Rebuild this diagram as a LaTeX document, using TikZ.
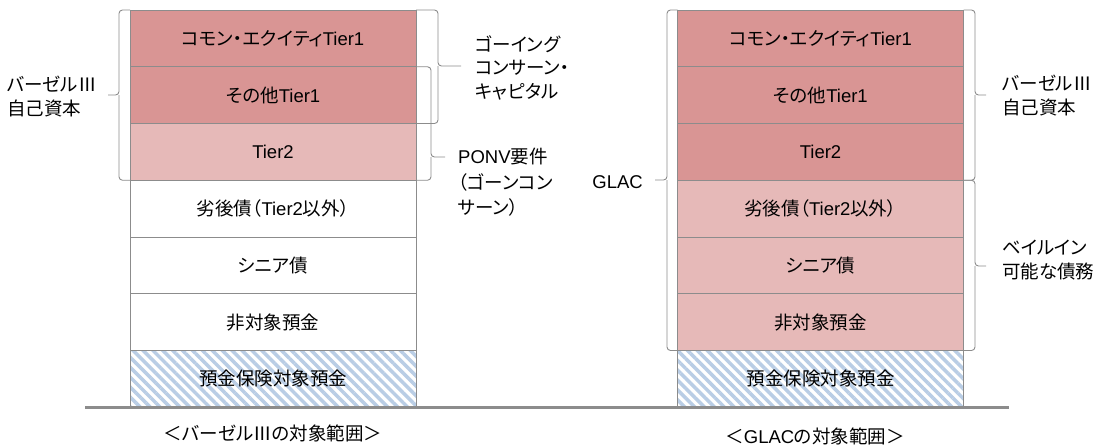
\documentclass[tikz,border=0pt]{standalone}
\usepackage{fontspec}
\setmainfont{Liberation Sans}
\newfontfamily\jp[RawFeature=+palt]{Noto Sans CJK JP}
\usetikzlibrary{patterns.meta}
\definecolor{dk}{HTML}{D99594}
\definecolor{lt}{HTML}{E6B9B8}
\definecolor{bd}{HTML}{8C8C8C}
\definecolor{hb}{HTML}{B9CDE5}
\begin{document}
\begin{tikzpicture}[x=1pt,y=-1pt,
  every node/.style={font=\fontsize{18.5}{24}\selectfont, text=black},
  cell/.style={draw=bd, line width=0.8pt, minimum width=286pt, minimum height=56.75pt, inner sep=0pt, outer sep=0pt, anchor=north},
  dkcell/.style={cell, fill=dk},
  ltcell/.style={cell, fill=lt},
  wcell/.style={cell, fill=white},
  hcell/.style={cell, pattern={Lines[angle=-45,distance=7pt,line width=3.5pt]}, pattern color=hb},
  brace/.style={draw=bd, line width=0.9pt, rounded corners=3.5pt},
  lbl/.style={align=left, inner sep=0pt}
]
\useasboundingbox[fill=white] (0,0) rectangle (1099,445);

% left column
\node[dkcell] (a1) at (273,10) {{\jp コモン・エクイティ}Tier1};
\node[dkcell] (a2) at (a1.south) {{\jp その他}Tier1};
\node[ltcell] (a3) at (a2.south) {Tier2};
\node[wcell] (a4) at (a3.south) {{\jp 劣後債（}Tier2{\jp 以外）}};
\node[wcell] (a5) at (a4.south) {{\jp シニア債}};
\node[wcell] (a6) at (a5.south) {{\jp 非対象預金}};
\node[hcell] (a7) at (a6.south) {{\jp 預金保険対象預金}};

% right column
\node[dkcell] (b1) at (820.5,10) {{\jp コモン・エクイティ}Tier1};
\node[dkcell] (b2) at (b1.south) {{\jp その他}Tier1};
\node[dkcell] (b3) at (b2.south) {Tier2};
\node[ltcell] (b4) at (b3.south) {{\jp 劣後債（}Tier2{\jp 以外）}};
\node[ltcell] (b5) at (b4.south) {{\jp シニア債}};
\node[ltcell] (b6) at (b5.south) {{\jp 非対象預金}};
\node[hcell] (b7) at (b6.south) {{\jp 預金保険対象預金}};

% base line
\coordinate (bl) at (85,407.5);
\coordinate (br) at (1009,407.5);
\draw[draw=bd, line width=2.2pt] (bl) -- (br);

% braces left column
\draw[brace] (a1.north west) -| (119,95) -- (108,95);
\draw[brace] (a3.south west) -| (119,95);
\draw[brace] (a1.north east) -| (438,66) -- (461,66);
\draw[brace] (a2.south east) -| (438,66);
\draw[brace] (a2.north east) -| (431,157) -- (445,157);
\draw[brace] (a3.south east) -| (431,157);

% braces right column
\draw[brace] (b1.north west) -| (667,180) -- (655,180);
\draw[brace] (b6.south west) -| (667,180);
\draw[brace] (b1.north east) -| (975,95) -- (986,95);
\draw[brace] (b3.south east) -| (975,95);
\draw[brace] (b4.north east) -| (975,266) -- (986,266);
\draw[brace] (b6.south east) -| (975,266);

% labels
\node[lbl, anchor=west] (l1) at (7,97) {{\jp バーゼルⅢ}\\{\jp 自己資本}};
\node[lbl, anchor=west, font=\fontsize{18.5}{23.5}\selectfont] (l2) at (475,67.5) {{\jp ゴーイング}\\{\jp コンサーン・}\\{\jp キャピタル}};
\node[lbl, anchor=west, font=\fontsize{18.5}{25.5}\selectfont] (l3) at (458,182.5) {PONV{\jp 要件}\\{\jp （ゴーンコン}\\{\jp サーン）}};
\node[lbl, anchor=east] (l4) at (643,182) {GLAC};
\node[lbl, anchor=west] (l5) at (1002,96) {{\jp バーゼルⅢ}\\{\jp 自己資本}};
\node[lbl, anchor=west] (l6) at (1002,260) {{\jp ベイルイン}\\{\jp 可能な債務}};

% titles
\node (t1) at (273,433) {{\jp ＜バーゼルⅢの対象範囲＞}};
\node (t2) at (815,436) {{\jp ＜}GLAC{\jp の対象範囲＞}};
\end{tikzpicture}
\end{document}
